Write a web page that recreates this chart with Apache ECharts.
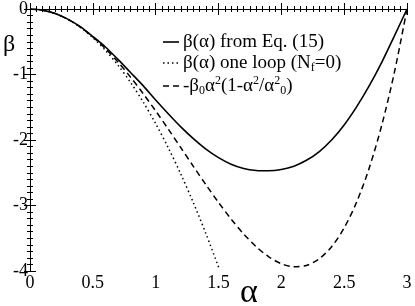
<!DOCTYPE html>
<html><head><meta charset="utf-8">
<script src="https://cdn.jsdelivr.net/npm/echarts@6/dist/echarts.min.js"></script>
<style>html,body{margin:0;padding:0;background:#fff}#c{width:415px;height:306px}</style>
</head><body><div id="c"></div>
<script>
const alphaGrid = [0,0.1,0.2,0.3,0.4,0.5,0.6,0.7,0.8,0.9,1.0,1.1,1.2,1.3,1.4,1.5,1.6,1.7,1.8,1.9,2.0,2.1,2.2,2.3,2.4,2.5,2.6,2.7,2.8,2.9,3.0];
const betaEq15 = [0,-0.017,-0.069,-0.155,-0.27,-0.42,-0.58,-0.77,-0.97,-1.17,-1.39,-1.60,-1.80,-1.98,-2.14,-2.27,-2.37,-2.435,-2.465,-2.47,-2.45,-2.40,-2.31,-2.18,-2.00,-1.77,-1.49,-1.17,-0.81,-0.41,0];
const alphaOneLoop = [0,0.1,0.2,0.3,0.4,0.5,0.6,0.7,0.8,0.9,1.0,1.1,1.2,1.3,1.4,1.5,1.51];
const betaOneLoop = [0,-0.0175,-0.07,-0.1575,-0.28,-0.4375,-0.63,-0.8575,-1.12,-1.4175,-1.75,-2.1175,-2.52,-2.9575,-3.43,-3.9375,-3.99];
const betaApprox = [0,-0.0175,-0.0697,-0.156,-0.275,-0.425,-0.605,-0.811,-1.040,-1.290,-1.556,-1.833,-2.117,-2.402,-2.683,-2.953,-3.206,-3.434,-3.629,-3.784,-3.889,-3.936,-3.915,-3.816,-3.629,-3.342,-2.944,-2.424,-1.768,-0.965,0];
const xTicks = ['0','0.5','1','1.5','2','2.5','3'];
const yTicks = ['0','-1','-2','-3','-4'];
const legendNames = ['eq15','oneloop','approx'];
const legendText = [
  '{t|β(α) from Eq. (15)}',
  '{t|β(α) one loop (N}{sub|f}{t|=0)}',
  '{t|-β}{sub|0}{t|α}{sup|2}{t|(1-α}{sup|2}{t|/α}{sup|2}{sub|0}{t|)}'
];

const F = '"Liberation Serif", serif';
const zip = (xs, ys) => xs.map((x, i) => [x, ys[i]]);
const chart = echarts.init(document.getElementById('c'), null, {renderer:'canvas'});

const mt = {show:true, splitNumber:10, length:3, lineStyle:{color:'#000'}};
const axBase = {
  type:'value', axisLine:{show:true, lineStyle:{color:'#000', width:1}},
  axisTick:{show:true, inside:true, length:6, lineStyle:{color:'#000'}},
  minorTick:mt, splitLine:{show:false}, minorSplitLine:{show:false}
};
const rich = {
  t:{font:'19px '+F, fill:'#000', lineHeight:22},
  sub:{font:'12px '+F, fill:'#000', lineHeight:12, verticalAlign:'bottom'},
  sup:{font:'12px '+F, fill:'#000', lineHeight:12, verticalAlign:'top'}
};
const lineStyles = [
  {lineWidth:1.6, lineDash:null},
  {lineWidth:1.5, lineDash:[1.5,3]},
  {lineWidth:1.5, lineDash:[6,4]}
];
const rowY = [42, 63, 86];
const legendGraphics = [];
legendNames.forEach((n, i) => {
  legendGraphics.push({type:'line', shape:{x1:163, y1:rowY[i], x2:179, y2:rowY[i]},
    style:{stroke:'#000', lineWidth:lineStyles[i].lineWidth, lineDash:lineStyles[i].lineDash}});
  legendGraphics.push({type:'text', x:183, y:rowY[i],
    style:{text:legendText[i], rich:rich, verticalAlign:'middle', align:'left', fill:'#000', font:'19px '+F}});
});

chart.setOption({
  animation:false,
  grid:{left:30, right:8, top:9, bottom:35, containLabel:false},
  xAxis:[
    Object.assign({}, axBase, {min:0, max:3, interval:0.5, position:'bottom',
      axisLabel:{fontFamily:F, fontSize:18, color:'#000', margin:3,
        formatter:v => xTicks[Math.round(v/0.5)]}}),
    Object.assign({}, axBase, {min:0, max:3, interval:0.5, position:'top',
      axisLabel:{show:false}})
  ],
  yAxis:[
    Object.assign({}, axBase, {min:-4, max:0, interval:1, position:'left',
      axisLabel:{fontFamily:F, fontSize:18, color:'#000', margin:2,
        formatter:v => yTicks[Math.round(-v)]}}),
    Object.assign({}, axBase, {min:-4, max:0, interval:1, position:'right',
      axisLabel:{show:false}})
  ],
  graphic:[
    {type:'text', x:9, y:45, style:{text:'β', font:'24px '+F, fill:'#000', align:'center', verticalAlign:'middle'}},
    {type:'text', x:249, y:293, style:{text:'α', font:'34px '+F, fill:'#000', align:'center', verticalAlign:'middle'}}
  ].concat(legendGraphics),
  series:[
    {name:'eq15', type:'line', data:zip(alphaGrid, betaEq15), showSymbol:false, symbol:'none', smooth:0.3,
      lineStyle:{color:'#000', width:1.6, type:'solid'}},
    {name:'oneloop', type:'line', data:zip(alphaOneLoop, betaOneLoop), showSymbol:false, symbol:'none', smooth:0.3,
      lineStyle:{color:'#000', width:1.5, type:[1.5,3]}},
    {name:'approx', type:'line', data:zip(alphaGrid, betaApprox), showSymbol:false, symbol:'none', smooth:0.3,
      lineStyle:{color:'#000', width:1.5, type:[6,4]}}
  ]
});
</script></body></html>
